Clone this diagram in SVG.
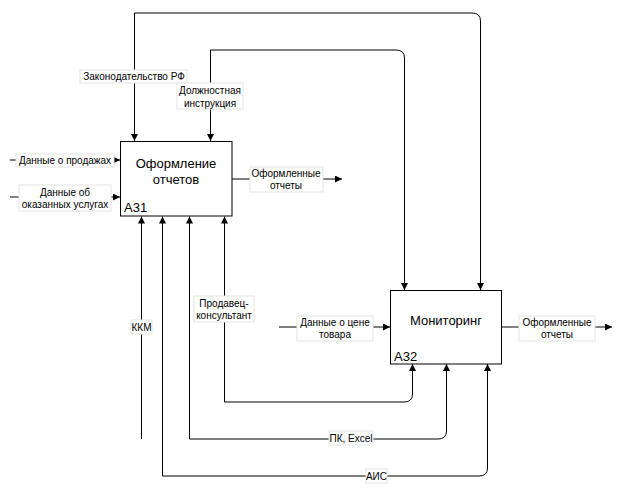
<svg xmlns="http://www.w3.org/2000/svg" width="623" height="490" viewBox="0 0 623 490">
<style>
.box{fill:#fff;stroke:#000;stroke-width:1}
.ln{fill:none;stroke:#000;stroke-width:1}
.lb{fill:#fff;stroke:#e4e4e4;stroke-width:1}
.t{font-family:"Liberation Sans",Arial,sans-serif;font-size:10px;fill:#000;text-anchor:middle}
.tm{font-family:"Liberation Sans",Arial,sans-serif;font-size:13px;fill:#000;text-anchor:middle}
.tn{font-family:"Liberation Sans",Arial,sans-serif;font-size:13px;fill:#000}
</style>
<defs>
<marker id="ar" markerUnits="userSpaceOnUse" markerWidth="8" markerHeight="8" refX="7" refY="3.5" orient="auto">
<path d="M0,0 L7,3.5 L0,7 z" fill="#000"/>
</marker>
</defs>
<rect width="623" height="490" fill="#fff"/>
<g id="connectors">
<path class="ln" d="M134.5,13 V141" marker-end="url(#ar)"/>
<path class="ln" d="M134.5,13 H472 Q480.5,13 480.5,21 V290" marker-end="url(#ar)"/>
<path class="ln" d="M210.5,50 V141" marker-end="url(#ar)"/>
<path class="ln" d="M210.5,50 H396 Q404.5,50 404.5,58 V290" marker-end="url(#ar)"/>
<path class="ln" d="M10,160 H120" marker-end="url(#ar)"/>
<path class="ln" d="M10,197 H120" marker-end="url(#ar)"/>
<path class="ln" d="M232,179 H342" marker-end="url(#ar)"/>
<path class="ln" d="M279,327 H390" marker-end="url(#ar)"/>
<path class="ln" d="M501.5,327 H612" marker-end="url(#ar)"/>
<path class="ln" d="M141.5,439 V216.5" marker-end="url(#ar)"/>
<path class="ln" d="M162.5,476 V216.5" marker-end="url(#ar)"/>
<path class="ln" d="M162.5,476 H479 Q487.5,476 487.5,468 V364" marker-end="url(#ar)"/>
<path class="ln" d="M189.5,439 V216.5" marker-end="url(#ar)"/>
<path class="ln" d="M189.5,439 H438 Q446.5,439 446.5,431 V364" marker-end="url(#ar)"/>
<path class="ln" d="M224.5,402 V216.5" marker-end="url(#ar)"/>
<path class="ln" d="M224.5,402 H404 Q412.5,402 412.5,394 V364" marker-end="url(#ar)"/>
</g>
<g id="labels">
<rect class="lb" x="80" y="70" width="107" height="13"/>
<text class="t" x="134" y="80">Законодательство РФ</text>
<rect class="lb" x="177" y="83" width="66" height="26"/>
<text class="t" x="210" y="93.5">Должностная</text>
<text class="t" x="210" y="106.5">инструкция</text>
<rect class="lb" x="16" y="154" width="98" height="13"/>
<text class="t" x="65" y="163.5">Данные о продажах</text>
<rect class="lb" x="19" y="185" width="92" height="26"/>
<text class="t" x="65" y="195.5">Данные об</text>
<text class="t" x="65" y="207.5">оказанных услугах</text>
<rect class="lb" x="250" y="167" width="73" height="25"/>
<text class="t" x="286" y="176.5">Оформленные</text>
<text class="t" x="286" y="188.5">отчеты</text>
<rect class="lb" x="194" y="296" width="60" height="26"/>
<text class="t" x="224" y="306.5">Продавец-</text>
<text class="t" x="224" y="318.5">консультант</text>
<rect class="lb" x="131" y="320" width="21" height="14"/>
<text class="t" x="141.5" y="330.5">ККМ</text>
<rect class="lb" x="297" y="316" width="76" height="25"/>
<text class="t" x="335" y="325.5">Данные о цене</text>
<text class="t" x="335" y="337.5">товара</text>
<rect class="lb" x="519" y="316" width="76" height="25"/>
<text class="t" x="557" y="325.5">Оформленные</text>
<text class="t" x="557" y="337.5">отчеты</text>
<rect class="lb" x="329" y="431" width="44" height="14"/>
<text class="t" x="351" y="441.5">ПК, Excel</text>
<rect class="lb" x="366" y="469" width="21" height="14"/>
<text class="t" x="376.5" y="479.5">АИС</text>
</g>
<g id="A31">
<rect class="box" x="120.5" y="141.5" width="111.5" height="74.5"/>
<text class="tm" x="176" y="167.5">Оформление</text>
<text class="tm" x="176" y="183.5">отчетов</text>
<text class="tn" x="124" y="212">A31</text>
</g>
<g id="A32">
<rect class="box" x="390.5" y="290.5" width="111" height="73.5"/>
<text class="tm" x="446" y="324.5">Мониторинг</text>
<text class="tn" x="394" y="361">A32</text>
</g>
</svg>
